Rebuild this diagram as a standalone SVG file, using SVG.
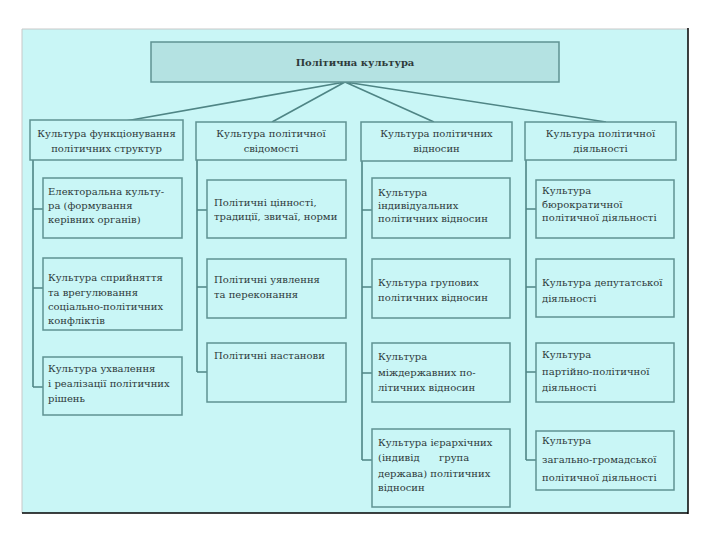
<svg xmlns="http://www.w3.org/2000/svg" width="720" height="540" viewBox="0 0 720 540">
<style>
.bx{fill:#c9f6f6;stroke:#5f9292;stroke-width:1.5}
.ttl{fill:#b4e2e2;stroke:#5f9292;stroke-width:1.5}
.ln{stroke:#4f8585;stroke-width:1.6;fill:none}
text{font-family:"DejaVu Serif","Liberation Serif",serif;font-size:10px;fill:#2e3a3a}
.c{text-anchor:middle}
.b{font-weight:bold}
</style>
<rect x="0" y="0" width="720" height="540" fill="#ffffff"/>
<rect x="22" y="29" width="666" height="484" fill="#c9f6f6"/>
<line x1="22" y1="29" x2="688" y2="29" stroke="#c8c8c8" stroke-width="1"/>
<line x1="22" y1="29" x2="22" y2="513" stroke="#c8c8c8" stroke-width="1"/>
<line x1="688" y1="28" x2="688" y2="514" stroke="#000" stroke-width="1.5"/>
<line x1="22" y1="513" x2="688" y2="513" stroke="#000" stroke-width="1.5"/>

<g id="connectors">
<path class="ln" d="M345 82 L120 122 M345 82 L272 122 M345 82 L434 122 M345 82 L606 122"/>
<path class="ln" d="M33 160 V387 M33 209 H43 M33 288 H43 M33 387 H43"/>
<path class="ln" d="M197 160 V372 M197 210 H207 M197 287 H207 M197 372 H207"/>
<path class="ln" d="M362 161 V460 M362 210 H372 M362 287 H372 M362 373 H372 M362 460 H372"/>
<path class="ln" d="M526 160 V460 M526 209 H536 M526 287 H536 M526 372 H536 M526 460 H536"/>
</g>

<g id="title">
<rect class="ttl" x="151" y="42" width="408" height="40"/>
<text class="c b" x="355" y="66">Політична культура</text>
</g>

<g id="h1"><rect class="bx" x="30" y="120" width="153" height="40"/>
<text class="c" x="106.5" y="137">Культура функціонування</text>
<text class="c" x="106.5" y="152">політичних структур</text></g>
<g id="h2"><rect class="bx" x="196" y="122" width="150" height="38"/>
<text class="c" x="271" y="137">Культура політичної</text>
<text class="c" x="271" y="152">свідомості</text></g>
<g id="h3"><rect class="bx" x="361" y="122" width="151" height="39"/>
<text class="c" x="436.5" y="137">Культура політичних</text>
<text class="c" x="436.5" y="152">відносин</text></g>
<g id="h4"><rect class="bx" x="525" y="122" width="151" height="38"/>
<text class="c" x="600.5" y="137">Культура політичної</text>
<text class="c" x="600.5" y="152">діяльності</text></g>

<g id="c1b1"><rect class="bx" x="43" y="178" width="139" height="60"/>
<text x="48" y="195">Електоральна культу-</text>
<text x="48" y="209">ра (формування</text>
<text x="48" y="223">керівних органів)</text></g>
<g id="c1b2"><rect class="bx" x="43" y="258" width="139" height="72"/>
<text x="48" y="281">Культура сприйняття</text>
<text x="48" y="295.5">та врегулювання</text>
<text x="48" y="310">соціально-політичних</text>
<text x="48" y="324">конфліктів</text></g>
<g id="c1b3"><rect class="bx" x="43" y="357" width="139" height="58"/>
<text x="48" y="372">Культура ухвалення</text>
<text x="48" y="387">і реалізації політичних</text>
<text x="48" y="402">рішень</text></g>

<g id="c2b1"><rect class="bx" x="207" y="180" width="139" height="58"/>
<text x="214" y="206">Політичні цінності,</text>
<text x="214" y="220">традиції, звичаї, норми</text></g>
<g id="c2b2"><rect class="bx" x="207" y="259" width="139" height="59"/>
<text x="214" y="283">Політичні уявлення</text>
<text x="214" y="298">та переконання</text></g>
<g id="c2b3"><rect class="bx" x="207" y="343" width="139" height="59"/>
<text x="214" y="359">Політичні настанови</text></g>

<g id="c3b1"><rect class="bx" x="372" y="178" width="138" height="60"/>
<text x="378" y="196">Культура</text>
<text x="378" y="209">індивідуальних</text>
<text x="378" y="222">політичних відносин</text></g>
<g id="c3b2"><rect class="bx" x="372" y="259" width="138" height="59"/>
<text x="378" y="286">Культура групових</text>
<text x="378" y="301">політичних відносин</text></g>
<g id="c3b3"><rect class="bx" x="372" y="343" width="138" height="59"/>
<text x="378" y="360">Культура</text>
<text x="378" y="375.5">міждержавних по-</text>
<text x="378" y="391">літичних відносин</text></g>
<g id="c3b4"><rect class="bx" x="372" y="429" width="138" height="78"/>
<text x="378" y="446">Культура ієрархічних</text>
<text x="378" y="461">(індивід</text><text x="439" y="461">група</text>
<text x="378" y="477">держава) політичних</text>
<text x="378" y="491">відносин</text></g>

<g id="c4b1"><rect class="bx" x="536" y="180" width="138" height="58"/>
<text x="542" y="194">Культура</text>
<text x="542" y="208">бюрократичної</text>
<text x="542" y="221">політичної діяльності</text></g>
<g id="c4b2"><rect class="bx" x="536" y="259" width="138" height="58"/>
<text x="542" y="286">Культура депутатської</text>
<text x="542" y="302">діяльності</text></g>
<g id="c4b3"><rect class="bx" x="536" y="343" width="138" height="59"/>
<text x="542" y="358">Культура</text>
<text x="542" y="375">партійно-політичної</text>
<text x="542" y="391">діяльності</text></g>
<g id="c4b4"><rect class="bx" x="536" y="431" width="138" height="59"/>
<text x="542" y="444">Культура</text>
<text x="542" y="463">загально-громадської</text>
<text x="542" y="481">політичної діяльності</text></g>
</svg>
